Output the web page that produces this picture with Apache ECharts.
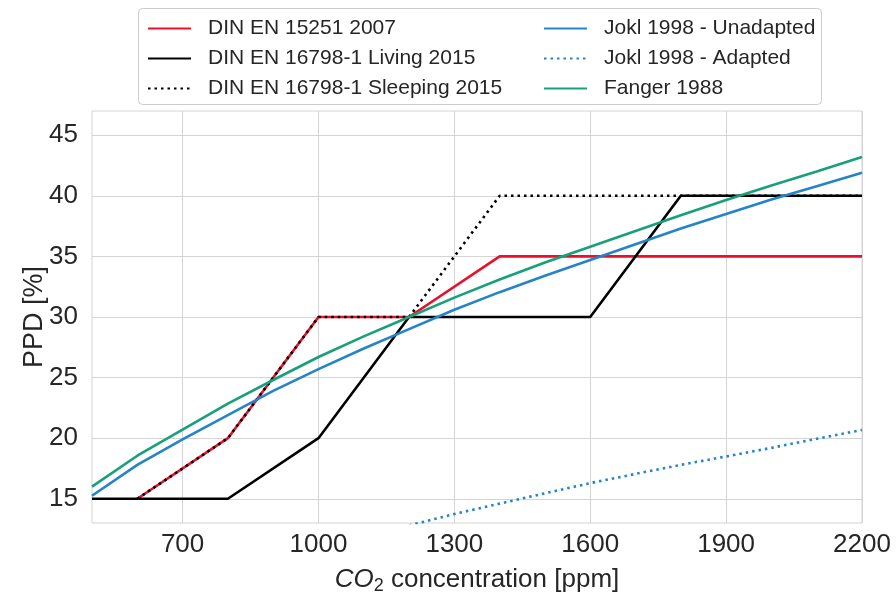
<!DOCTYPE html>
<html>
<head>
<meta charset="utf-8">
<script src="https://cdn.jsdelivr.net/npm/echarts@6/dist/echarts.min.js"></script>
<style>
  html, body { margin: 0; padding: 0; background: #ffffff; }
  #chart { width: 896px; height: 594px; }
</style>
</head>
<body>
<div id="chart"></div>
<script>
// CO2 concentration samples [ppm]
const co2 = [500, 600, 700, 800, 900, 1000, 1100, 1200, 1300, 1400, 1500, 1600, 1700, 1800, 1900, 2000, 2100, 2200];

// Standard category limits (step curves) as [ppm, PPD] breakpoints
const din15251 = [[600, 15], [800, 20], [1000, 30], [1200, 30], [1400, 35], [2200, 35]];
const din16798Living = [[500, 15], [800, 15], [1000, 20], [1200, 30], [1600, 30], [1800, 40], [2200, 40]];
const din16798Sleeping = [[600, 15], [800, 20], [1000, 30], [1200, 30], [1400, 40], [2200, 40]];

// Empirical PPD models, one value per co2 sample
const joklUnadapted = [15.25, 17.8, 19.9, 21.9, 23.9, 25.7, 27.4, 29.0, 30.6, 32.05, 33.4, 34.7, 36.0, 37.3, 38.5, 39.7, 40.8, 41.9];
const joklAdaptedCo2 = [1200, 1300, 1400, 1500, 1600, 1700, 1800, 1900, 2000, 2100, 2200];
const joklAdapted = [12.8, 13.74, 14.6, 15.45, 16.29, 17.05, 17.8, 18.49, 19.2, 19.95, 20.68];
const fanger = [16.0, 18.55, 20.7, 22.85, 24.8, 26.7, 28.4, 30.0, 31.6, 33.1, 34.5, 35.8, 37.1, 38.4, 39.65, 40.85, 42.0, 43.2];

// Tick labels
const xTicks = [700, 1000, 1300, 1600, 1900, 2200];
const yTicks = [15, 20, 25, 30, 35, 40, 45];

const names = [
  'DIN EN 15251 2007',
  'DIN EN 16798-1 Living 2015',
  'DIN EN 16798-1 Sleeping 2015',
  'Jokl 1998 - Unadapted',
  'Jokl 1998 - Adapted',
  'Fanger 1988'
];

const RED = '#e8112d';
const BLACK = '#000000';
const BLUE = '#2584c8';
const GREEN = '#18a07a';
const TEXT = '#262626';
const GRID = '#d4d4d4';
const FONT = '"Liberation Sans", Arial, sans-serif';
const DOT = [2.5, 4];

const pair = (xs, ys) => xs.map((x, i) => [x, ys[i]]);

function lineSeries(name, data, color, dotted, z) {
  return {
    name: name,
    type: 'line',
    data: data,
    symbol: 'none',
    smooth: false,
    clip: true,
    z: z,
    lineStyle: { color: color, width: 2.6, type: dotted ? DOT : 'solid', cap: 'butt' },
    itemStyle: { color: color },
    emphasis: { disabled: true }
  };
}

const chart = echarts.init(document.getElementById('chart'), null, { renderer: 'canvas' });

const legendCommon = {
  orient: 'vertical',
  itemWidth: 43,
  itemHeight: 14,
  itemGap: 9,
  padding: 0,
  selectedMode: false,
  itemStyle: { opacity: 0 },
  textStyle: { fontFamily: FONT, fontSize: 21, color: TEXT, lineHeight: 21, padding: [0, 0, 0, 12] }
};

const plainNumber = (v) => String(v);

chart.setOption({
  animation: false,
  backgroundColor: '#ffffff',
  graphic: [{
    type: 'rect',
    shape: { x: 138.5, y: 8.5, width: 683, height: 96, r: 4 },
    style: { fill: '#ffffff', stroke: '#cccccc', lineWidth: 1 },
    z: 0
  }],
  legend: [
    Object.assign({}, legendCommon, { left: 147, top: 18, data: names.slice(0, 3) }),
    Object.assign({}, legendCommon, { left: 543, top: 18, data: names.slice(3) })
  ],
  grid: {
    left: 92, right: 34, top: 111, bottom: 71,
    show: true, borderColor: GRID, borderWidth: 1,
    containLabel: false, outerBoundsMode: 'none'
  },
  xAxis: {
    type: 'value',
    min: 500,
    max: 2200,
    name: '{i|CO}{s|2} concentration [ppm]',
    nameLocation: 'middle',
    nameGap: 42,
    nameMoveOverlap: false,
    nameTextStyle: {
      fontFamily: FONT, fontSize: 26, color: TEXT,
      rich: {
        i: { fontFamily: FONT, fontSize: 26, fontStyle: 'italic', color: TEXT },
        s: { fontFamily: FONT, fontSize: 18, color: TEXT, verticalAlign: 'bottom', padding: [12, 0, 0, 0] }
      }
    },
    axisLine: { show: false },
    axisTick: { show: false, customValues: xTicks },
    axisLabel: { customValues: xTicks, formatter: plainNumber, fontFamily: FONT, fontSize: 26, color: TEXT, margin: 9 },
    splitLine: { show: true, lineStyle: { color: GRID, width: 1 } }
  },
  yAxis: {
    type: 'value',
    min: 13,
    max: 47,
    name: 'PPD [%]',
    nameLocation: 'middle',
    nameGap: 44,
    nameMoveOverlap: false,
    nameTextStyle: { fontFamily: FONT, fontSize: 27, color: TEXT },
    axisLine: { show: false },
    axisTick: { show: false, customValues: yTicks },
    axisLabel: { customValues: yTicks, formatter: plainNumber, fontFamily: FONT, fontSize: 26, color: TEXT, margin: 14 },
    splitLine: { show: true, lineStyle: { color: GRID, width: 1 } }
  },
  series: [
    lineSeries(names[0], din15251, RED, false, 3),
    lineSeries(names[1], din16798Living, BLACK, false, 4),
    lineSeries(names[2], din16798Sleeping, BLACK, true, 5),
    lineSeries(names[3], pair(co2, joklUnadapted), BLUE, false, 6),
    lineSeries(names[4], pair(joklAdaptedCo2, joklAdapted), BLUE, true, 7),
    lineSeries(names[5], pair(co2, fanger), GREEN, false, 8)
  ]
});
</script>
</body>
</html>
